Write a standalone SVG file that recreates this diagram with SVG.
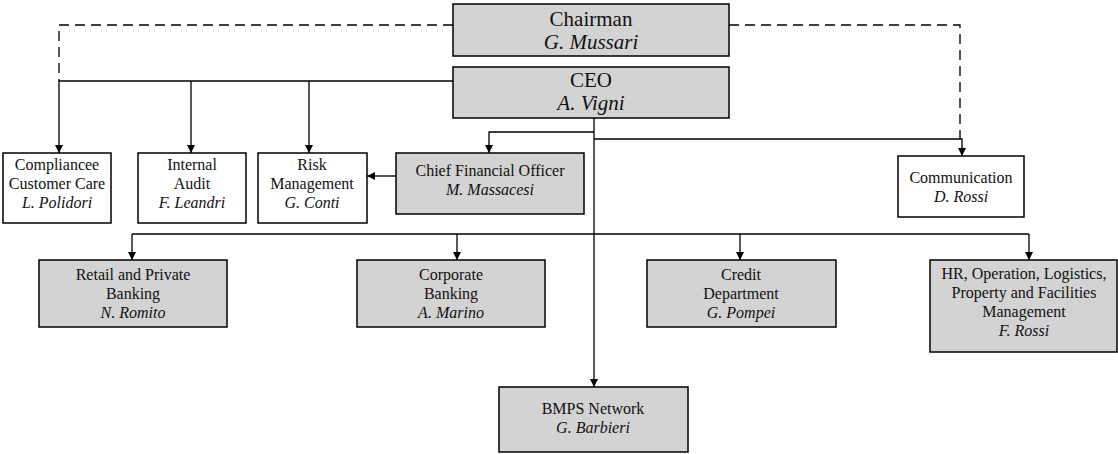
<svg xmlns="http://www.w3.org/2000/svg" width="1118" height="454" viewBox="0 0 1118 454">
<style>
.box{stroke:#000;stroke-width:1.5}
.g{fill:#d3d3d3}
.w{fill:#fff}
.t{font-size:16px;fill:#111;text-anchor:middle}
.big{font-size:21px}
.it{font-style:italic}
.ln{fill:none;stroke:#000;stroke-width:1.3}
.dash{stroke-dasharray:10 6}
</style>
<defs>
<marker id="ah" viewBox="0 0 10 10" refX="10" refY="5" markerWidth="10" markerHeight="8" markerUnits="userSpaceOnUse" orient="auto">
<path d="M0,0 L10,5 L0,10 z" fill="#000"/>
</marker>
</defs>
<rect width="1118" height="454" fill="#fff"/>
<g id="connectors">
<path class="ln dash" d="M453,25 H59 V81"/>
<path class="ln dash" d="M729,25 H960 V139"/>
<path class="ln" d="M453,81 H59 V153" marker-end="url(#ah)"/>
<path class="ln" d="M191,81 V153" marker-end="url(#ah)"/>
<path class="ln" d="M309,81 V153" marker-end="url(#ah)"/>
<path class="ln" d="M594,118 V387" marker-end="url(#ah)"/>
<path class="ln" d="M594,132 H489 V153" marker-end="url(#ah)"/>
<path class="ln" d="M594,139 H962 V156" marker-end="url(#ah)"/>
<path class="ln" d="M396,176 H367" marker-end="url(#ah)"/>
<path class="ln" d="M132,234 H1029"/>
<path class="ln" d="M132,234 V260" marker-end="url(#ah)"/>
<path class="ln" d="M457,234 V260" marker-end="url(#ah)"/>
<path class="ln" d="M740,234 V260" marker-end="url(#ah)"/>
<path class="ln" d="M1029,234 V260" marker-end="url(#ah)"/>
</g>
<g font-family="Liberation Serif, DejaVu Serif, serif">
<g id="chairman">
<rect class="box g" x="453" y="4" width="276" height="52"/>
<text class="t big" x="591" y="26">Chairman</text>
<text class="t big it" x="591" y="49">G. Mussari</text>
</g>
<g id="ceo">
<rect class="box g" x="453" y="67" width="276" height="51"/>
<text class="t big" x="591" y="87">CEO</text>
<text class="t big it" x="591" y="110">A. Vigni</text>
</g>
<g id="compliance">
<rect class="box w" x="3" y="153" width="108" height="70"/>
<text class="t" x="57" y="170">Compliancee</text>
<text class="t" x="57" y="189">Customer Care</text>
<text class="t it" x="57" y="208">L. Polidori</text>
</g>
<g id="audit">
<rect class="box w" x="138" y="153" width="108" height="70"/>
<text class="t" x="192" y="170">Internal</text>
<text class="t" x="192" y="189">Audit</text>
<text class="t it" x="192" y="208">F. Leandri</text>
</g>
<g id="risk">
<rect class="box w" x="258" y="153" width="109" height="70"/>
<text class="t" x="312" y="170">Risk</text>
<text class="t" x="312" y="189">Management</text>
<text class="t it" x="312" y="208">G. Conti</text>
</g>
<g id="cfo">
<rect class="box g" x="396" y="153" width="188" height="61"/>
<text class="t" x="490" y="176">Chief Financial Officer</text>
<text class="t it" x="490" y="195">M. Massacesi</text>
</g>
<g id="communication">
<rect class="box w" x="898" y="156" width="126" height="61"/>
<text class="t" x="961" y="183">Communication</text>
<text class="t it" x="961" y="202">D. Rossi</text>
</g>
<g id="retail">
<rect class="box g" x="39" y="260" width="188" height="67"/>
<text class="t" x="133" y="280">Retail and Private</text>
<text class="t" x="133" y="299">Banking</text>
<text class="t it" x="133" y="318">N. Romito</text>
</g>
<g id="corporate">
<rect class="box g" x="357" y="260" width="188" height="67"/>
<text class="t" x="451" y="280">Corporate</text>
<text class="t" x="451" y="299">Banking</text>
<text class="t it" x="451" y="318">A. Marino</text>
</g>
<g id="credit">
<rect class="box g" x="647" y="260" width="189" height="67"/>
<text class="t" x="741" y="280">Credit</text>
<text class="t" x="741" y="299">Department</text>
<text class="t it" x="741" y="318">G. Pompei</text>
</g>
<g id="hr">
<rect class="box g" x="930" y="260" width="187" height="92"/>
<text class="t" x="1024" y="279">HR, Operation, Logistics,</text>
<text class="t" x="1024" y="298">Property and Facilities</text>
<text class="t" x="1024" y="317">Management</text>
<text class="t it" x="1024" y="336">F. Rossi</text>
</g>
<g id="bmps">
<rect class="box g" x="499" y="387" width="189" height="65"/>
<text class="t" x="593" y="414">BMPS Network</text>
<text class="t it" x="593" y="433">G. Barbieri</text>
</g>
</g>
</svg>
